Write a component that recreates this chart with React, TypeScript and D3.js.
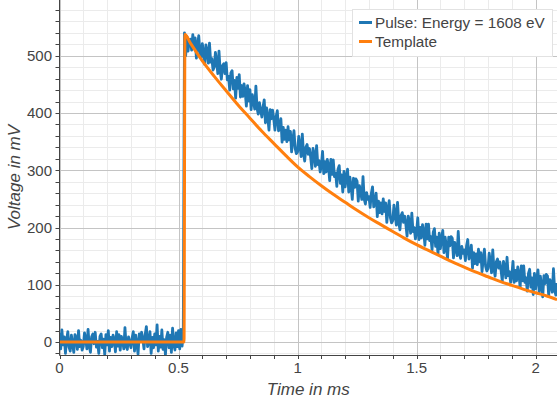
import React from "react";
import * as d3 from "d3";

// sample spacing of the recorded pulse (ms)
const sampleStep = 0.005;

// baseline samples (mV), t = 0 .. 0.52 ms
const baselineValues = [
  16, -12, 21, -5, 9, -20, 4, 18, -9, -16,
  12, -4, -18, 13, 7, -13, 20, -8, 3, -14,
  -8, 16, 5, -12, 22, -7, -18, 9, 14, -3,
  17, -9, 1, -20, 10, 14, -10, 5, -22, 13,
  -5, 20, -16, 8, -8, 12, 4, -17, 18, -7,
  13, -14, 10, 3, -12, 25, -7, -13, 9, -1,
  -10, 7, 18, -16, 12, -3, -21, 14, 1, 17,
  5, -12, 13, 27, -8, 0, 18, -20, 8, -10,
  14, -5, 30, -16, 10, -9, 21, -13, 4, -22,
  8, 17, -10, 12, -18, 24, -4, -14, 16, -8,
  20, -12, 22, -7, 14,
];

// pulse samples (mV), t = 0.525 .. 2.09 ms
const pulseValues = [
  540, 500, 534, 508, 528,
  529, 510, 537, 515, 531, 496, 518, 535, 505, 497,
  521, 505, 485, 519, 508, 487, 522, 489, 495, 475,
  480, 506, 490, 469, 508, 473, 459, 483, 486, 469,
  488, 458, 464, 440, 470, 474, 442, 457, 426, 462,
  443, 467, 428, 448, 429, 451, 437, 412, 448, 421,
  441, 406, 432, 421, 407, 447, 408, 398, 418, 405,
  393, 410, 423, 383, 409, 392, 370, 406, 390, 405,
  390, 370, 394, 404, 369, 373, 390, 349, 375, 354,
  370, 350, 376, 353, 368, 332, 353, 369, 338, 329,
  332, 359, 343, 324, 363, 329, 316, 340, 345, 328,
  338, 323, 303, 338, 328, 307, 343, 310, 317, 297,
  308, 333, 294, 315, 297, 319, 307, 282, 319, 293,
  318, 289, 295, 272, 302, 308, 277, 292, 262, 298,
  271, 288, 302, 262, 288, 271, 249, 286, 270, 285,
  281, 246, 273, 262, 249, 289, 250, 241, 261, 249,
  254, 235, 260, 271, 236, 242, 260, 219, 246, 226,
  243, 224, 250, 228, 243, 209, 231, 247, 217, 208,
  212, 239, 223, 204, 244, 210, 196, 221, 226, 209,
  220, 205, 185, 220, 210, 190, 225, 193, 200, 180,
  192, 217, 179, 200, 182, 205, 193, 169, 206, 180,
  206, 177, 184, 161, 192, 198, 167, 183, 153, 190,
  163, 181, 195, 156, 183, 167, 146, 183, 168, 184,
  181, 147, 174, 164, 151, 193, 155, 146, 167, 155,
  161, 142, 168, 179, 145, 151, 169, 129, 156, 137,
  154, 135, 162, 140, 156, 123, 145, 162, 132, 124,
  128, 155, 140, 121, 161, 128, 115, 140, 145, 129,
  140, 125, 106, 141, 131, 112, 148, 116, 123, 104,
  116, 141, 104, 125, 107, 131, 119, 95, 133, 107,
  133, 104, 112, 89, 120, 127, 96, 112, 83, 120,
  93, 111, 126, 87, 115, 99, 79, 116, 102, 118,
  115, 81, 109, 99, 87, 128, 91, 82, 103,
];

// template curve
const templateTimes = [
  0, 0.523, 0.527, 0.55, 0.6, 0.65, 0.7, 0.75, 0.8, 0.85, 0.9, 0.95, 1.0, 1.05, 1.1, 1.15, 1.2, 1.25,
  1.3, 1.35, 1.4, 1.45, 1.5, 1.55, 1.6, 1.65, 1.7, 1.75, 1.8, 1.85, 1.9, 1.95, 2.0, 2.05, 2.09,
];
const templateValues = [
  0, 0, 537, 522, 491, 464, 439, 414, 391, 368, 347, 326, 306, 289, 273, 258, 244, 230,
  217, 205, 193, 181, 170, 160, 150, 140, 131, 122, 114, 106, 99, 92, 86, 80, 74,
];

const xTickValues = [0, 0.5, 1, 1.5, 2];
const xTickLabels = ["0", "0.5", "1", "1.5", "2"];
const yTickValues = [0, 100, 200, 300, 400, 500];
const yTickLabels = ["0", "100", "200", "300", "400", "500"];
const legendLabels = ["Pulse: Energy = 1608 eV", "Template"];
const xTitle = "Time in ms";
const yTitle = "Voltage in mV";

const W = 557;
const H = 405;
const left = 59.5;
const right = 557;
const top = 0;
const bottom = 355;

const FONT = "'Liberation Sans', Arial, Helvetica, sans-serif";
const BLUE = "#1f77b4";
const ORANGE = "#ff7f0e";

export default function App() {
  const x = d3.scaleLinear().domain([0, 2.0899]).range([left, right]);
  const y = d3.scaleLinear().domain([-22.7, 597.4]).range([bottom, top]);

  const pulse: [number, number][] = [...baselineValues, ...pulseValues].map((v, i) => [i * sampleStep, v]);
  const template: [number, number][] = templateTimes.map((t, i) => [t, templateValues[i]]);

  const pulseLine = d3.line<[number, number]>().x((d) => x(d[0])).y((d) => y(d[1]));
  const templateLine = d3
    .line<[number, number]>()
    .x((d) => x(d[0]))
    .y((d) => y(d[1]))
    .curve(d3.curveMonotoneX);

  const xMinor = d3.range(0, 2.1, 0.1).filter((v) => v <= 2.09);
  const yMinor = d3.range(-20, 600, 20);

  return (
    <svg width={W} height={H} style={{ position: "absolute", left: 0, top: 0, background: "#fff" }}>
      <defs>
        <clipPath id="plotclip">
          <rect x={left} y={top} width={right - left} height={bottom - top} />
        </clipPath>
      </defs>
      <rect x={0} y={0} width={W} height={H} fill="#fff" />
      {/* minor grid */}
      <g stroke="#ebebeb" strokeWidth={1}>
        {xMinor.map((v, i) => (
          <line key={"xm" + i} x1={Math.round(x(v)) + 0.5} x2={Math.round(x(v)) + 0.5} y1={top} y2={bottom} />
        ))}
        {yMinor.map((v, i) => (
          <line key={"ym" + i} x1={left} x2={right} y1={Math.round(y(v)) + 0.5} y2={Math.round(y(v)) + 0.5} />
        ))}
      </g>
      {/* major grid */}
      <g stroke="#c4c4c4" strokeWidth={1}>
        {xTickValues.map((v, i) => (
          <line key={"xg" + i} x1={Math.round(x(v)) + 0.5} x2={Math.round(x(v)) + 0.5} y1={top} y2={bottom} />
        ))}
        {yTickValues.map((v, i) => (
          <line key={"yg" + i} x1={left} x2={right} y1={Math.round(y(v)) + 0.5} y2={Math.round(y(v)) + 0.5} />
        ))}
      </g>
      {/* data */}
      <g clipPath="url(#plotclip)">
        <path d={pulseLine(pulse) || ""} fill="none" stroke={BLUE} strokeWidth={2.8} strokeLinejoin="round" />
        <path d={templateLine(template) || ""} fill="none" stroke={ORANGE} strokeWidth={3} strokeLinejoin="round" />
      </g>
      {/* axes */}
      <g stroke="#444" strokeWidth={1}>
        <line x1={left} x2={left} y1={top} y2={bottom + 0.5} />
        <line x1={left} x2={right} y1={bottom + 0.5} y2={bottom + 0.5} />
        {xMinor.map((v, i) => (
          <line key={"xt" + i} x1={Math.round(x(v)) + 0.5} x2={Math.round(x(v)) + 0.5} y1={bottom} y2={bottom + 4} />
        ))}
        {yMinor.map((v, i) => (
          <line key={"yt" + i} x1={left - 4} x2={left} y1={Math.round(y(v)) + 0.5} y2={Math.round(y(v)) + 0.5} />
        ))}
      </g>
      <g fontFamily={FONT} fontSize={15} fill="#444">
        {xTickValues.map((v, i) => (
          <text key={"xl" + i} x={x(v)} y={373} textAnchor="middle">
            {xTickLabels[i]}
          </text>
        ))}
        {yTickValues.map((v, i) => (
          <text key={"yl" + i} x={52} y={y(v) + 5.3} textAnchor="end">
            {yTickLabels[i]}
          </text>
        ))}
      </g>
      <text
        x={(left + right) / 2}
        y={395}
        textAnchor="middle"
        fontFamily={FONT}
        fontSize={17}
        fontStyle="italic"
        fill="#444"
      >
        {xTitle}
      </text>
      <text
        transform={`translate(20,${(top + bottom) / 2}) rotate(-90)`}
        textAnchor="middle"
        fontFamily={FONT}
        fontSize={17}
        fontStyle="italic"
        fill="#444"
      >
        {yTitle}
      </text>
      {/* legend */}
      <g>
        <rect x={352.5} y={9.5} width={200} height={47} fill="#fff" stroke="#e2e2e2" strokeWidth={1} />
        {legendLabels.map((lab, i) => (
          <g key={"lg" + i}>
            <line
              x1={359}
              x2={372}
              y1={22.5 + i * 19}
              y2={22.5 + i * 19}
              stroke={i === 0 ? BLUE : ORANGE}
              strokeWidth={3}
            />
            <text x={375} y={28 + i * 19} fontFamily={FONT} fontSize={15.3} fill="#444">
              {lab}
            </text>
          </g>
        ))}
      </g>
    </svg>
  );
}
